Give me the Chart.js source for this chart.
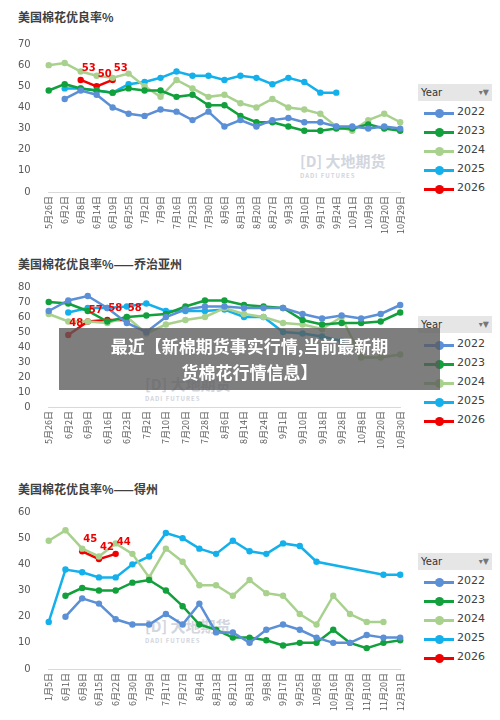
<!DOCTYPE html>
<html><head><meta charset="utf-8">
<script src="https://cdn.jsdelivr.net/npm/chart.js@4"></script>
<style>
body{margin:0;width:500px;height:720px;background:#fff;position:relative;overflow:hidden;font-family:"Noto Sans CJK SC","Noto Sans",sans-serif;}
.title{position:absolute;left:18px;font-size:12px;color:#404040;font-weight:bold;}
.cv{position:absolute;left:0;}
.leg{position:absolute;left:418px;width:74px;font-family:"DejaVu Sans",sans-serif;font-size:11px;color:#404040;}
.yr{background:#e6e6e6;height:17px;line-height:17px;padding-left:3px;font-size:10px;color:#333;margin-bottom:3px;position:relative}
.yr:after{content:"▾▼";position:absolute;right:3px;font-size:8px;color:#777}
.it{position:relative;height:19px;}
.it i{position:absolute;left:6px;top:8px;width:30px;height:3px;}
.it b{position:absolute;left:17px;top:5px;width:9px;height:9px;border-radius:50%;}
.it span{position:absolute;left:39px;top:1px;}
.wm{position:absolute;color:#c8ccd6;font-weight:bold;font-size:15px;opacity:.8}
.wm small{display:block;font-size:6px;letter-spacing:1px}
.banner{position:absolute;z-index:10;left:59px;top:328px;width:381px;height:62px;background:rgba(90,90,90,0.78);color:#fff;font-weight:bold;font-size:17px;text-align:center;line-height:26px;padding-top:5px;box-sizing:border-box;}
</style></head><body>
<div class="title" style="top:8px">美国棉花优良率%</div>
<div class="title" style="top:255px">美国棉花优良率%——乔治亚州</div>
<div class="title" style="top:480px">美国棉花优良率%——得州</div>
<div class="wm" style="left:300px;top:150px">[D] 大地期货<small>DADI FUTURES</small></div>
<div class="wm" style="left:145px;top:373px">[D] 大地期货<small>DADI FUTURES</small></div>
<div class="wm" style="left:145px;top:615px">[D] 大地期货<small>DADI FUTURES</small></div>
<canvas id="c1" class="cv" style="top:28px"></canvas>
<canvas id="c2" class="cv" style="top:271px"></canvas>
<canvas id="c3" class="cv" style="top:496px"></canvas>
<div class="leg" style="top:84px" id="l1"></div>
<div class="leg" style="top:316px" id="l2"></div>
<div class="leg" style="top:553px" id="l3"></div>
<div class="banner">最近【新棉期货事实行情,当前最新期<br>货棉花行情信息】</div>
<script>
const years=['2022','2023','2024','2025','2026'];
const colors=['#5b8fd6','#12a03c','#a9d18e','#14b0ec','#f00000'];

const labels1=['5月26日','6月2日','6月8日','6月14日','6月19日','6月25日','7月2日','7月9日','7月16日','7月23日','7月30日','8月6日','8月13日','8月20日','8月27日','9月3日','9月10日','9月17日','9月24日','10月1日','10月9日','10月20日','10月29日'];
const us2022=[null,44,48,46,40,37,36,39,38,34,38,31,34,31,34,35,33,33,31,31,30,31,30];
const us2023=[48,51,49,48,47,49,48,48,45,46,41,41,36,33,33,31,29,29,30,30,32,30,29];
const us2024=[60,61,57,55,54,56,50,45,53,49,45,46,42,40,44,40,39,37,31,29,34,37,33];
const us2025=[null,49,49,48,47,51,52,54,57,55,55,53,55,54,51,54,52,47,47,null,null,null,null];
const us2026=[null,null,53,50,53,null,null,null,null,null,null,null,null,null,null,null,null,null,null,null,null,null,null];

const labels2=['5月26日','6月2日','6月9日','6月16日','6月23日','7月2日','7月10日','7月20日','7月28日','8月6日','8月14日','8月24日','9月1日','9月10日','9月18日','9月28日','10月8日','10月20日','10月30日'];
const ga2022=[64,71,74,66,56,50,60,65,67,67,66,66,66,62,59,61,59,62,68];
const ga2023=[70,69,64,57,60,61,62,67,71,71,68,67,66,58,55,56,56,57,63];
const ga2024=[62,57,57,56,60,49,55,58,60,66,62,60,56,55,52,60,33,33,35];
const ga2025=[null,63,66,66,67,69,64,64,64,65,60,60,50,49,47,44,null,null,null];
const ga2026=[null,48,57,58,58,null,null,null,null,null,null,null,null,null,null,null,null,null,null];

const labels3=['1月5日','6月1日','6月8日','6月15日','6月22日','6月30日','7月9日','7月17日','7月27日','8月4日','8月13日','8月21日','8月31日','9月8日','9月17日','9月25日','10月6日','10月16日','10月29日','11月10日','11月20日','12月31日'];
const tx2022=[null,20,27,25,19,17,17,21,17,25,14,14,10,15,17,15,12,10,10,13,12,12];
const tx2023=[null,28,31,30,30,33,34,30,24,17,15,12,12,11,9,10,10,15,10,8,10,11];
const tx2024=[49,53,46,43,48,44,35,46,41,32,32,28,34,29,28,21,17,28,21,18,18,null];
const tx2025=[18,38,37,35,35,40,43,52,50,46,44,49,45,44,48,47,41,null,null,null,36,36];
const tx2026=[null,null,45,42,44,null,null,null,null,null,null,null,null,null,null,null,null,null,null,null,null,null];

const redLabels={id:'redLabels',afterDatasetsDraw(ch){
  const ctx=ch.ctx;const meta=ch.getDatasetMeta(4);
  ctx.save();ctx.fillStyle='#f00000';ctx.font='bold 10px "DejaVu Sans",sans-serif';ctx.textAlign='center';
  meta.data.forEach((p,i)=>{const v=ch.data.datasets[4].data[i];if(v==null)return;ctx.fillText(String(v),p.x+8,p.y-9);});
  ctx.restore();}};

function make(id,w,h,labels,series,ymax,step){
  const el=document.getElementById(id);el.width=w;el.height=h;el.style.width=w+'px';el.style.height=h+'px';
  new Chart(el,{type:'line',data:{labels,datasets:series.map((d,i)=>({label:years[i],data:d,borderColor:colors[i],backgroundColor:colors[i],borderWidth:2.5,pointRadius:3.2,pointBorderWidth:0,spanGaps:true,tension:0}))},
  options:{responsive:false,animation:false,plugins:{legend:{display:false},tooltip:{enabled:false}},
   layout:{padding:{left:8,right:4,top:6}},
   scales:{x:{grid:{display:false,drawTicks:false},border:{color:'#d9d9d9'},ticks:{color:'#595959',font:{size:9,family:'"Noto Sans CJK SC"'},minRotation:90,maxRotation:90,autoSkip:false,padding:4}},
    y:{min:0,max:ymax,grid:{display:false},border:{display:false},ticks:{stepSize:step,color:'#595959',font:{size:10,family:'"DejaVu Sans"'},padding:10}}}},
  plugins:[redLabels]});
}
make('c1',415,210,labels1,[us2022,us2023,us2024,us2025,us2026],70,10);
make('c2',415,182,labels2,[ga2022,ga2023,ga2024,ga2025,ga2026],80,10);
make('c3',415,219,labels3,[tx2022,tx2023,tx2024,tx2025,tx2026],60,10);
['l1','l2','l3'].forEach(id=>{
  let h='<div class="yr">Year</div>';
  years.forEach((y,i)=>{h+=`<div class="it"><i style="background:${colors[i]}"></i><b style="background:${colors[i]}"></b><span>${y}</span></div>`;});
  document.getElementById(id).innerHTML=h;});
</script></body></html>
